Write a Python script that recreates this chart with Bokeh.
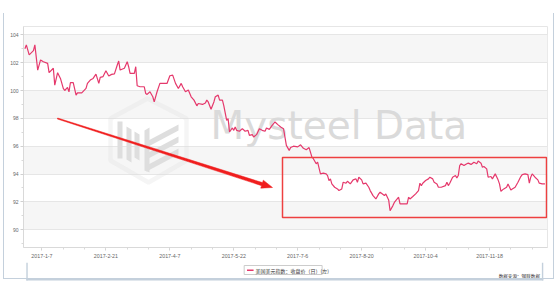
import pandas as pd
from bokeh.plotting import figure
from bokeh.layouts import column
from bokeh.models import (Range1d, FixedTicker, BoxAnnotation, Label, PolyAnnotation,
                          CustomJSTickFormatter, InlineStyleSheet)
from bokeh.embed import file_html
from bokeh.resources import INLINE

# ---------------- data ----------------
dates = [
    "2016-12-26", "2016-12-27", "2016-12-29", "2017-01-01", "2017-01-02", "2017-01-04", "2017-01-06",
    "2017-01-08", "2017-01-11", "2017-01-12", "2017-01-15", "2017-01-16", "2017-01-18", "2017-01-20",
    "2017-01-22", "2017-01-23", "2017-01-25", "2017-01-26", "2017-01-27", "2017-01-29", "2017-01-31",
    "2017-02-01", "2017-02-04", "2017-02-07", "2017-02-08", "2017-02-10", "2017-02-12", "2017-02-14",
    "2017-02-16", "2017-02-17", "2017-02-19", "2017-02-21", "2017-02-23", "2017-02-25", "2017-02-27",
    "2017-03-01", "2017-03-02", "2017-03-03", "2017-03-06", "2017-03-08", "2017-03-09", "2017-03-10",
    "2017-03-13", "2017-03-14", "2017-03-15", "2017-03-17", "2017-03-20", "2017-03-21", "2017-03-22",
    "2017-03-24", "2017-03-26", "2017-03-27", "2017-03-29", "2017-03-31", "2017-04-03", "2017-04-05",
    "2017-04-07", "2017-04-09", "2017-04-11", "2017-04-13", "2017-04-15", "2017-04-16", "2017-04-18",
    "2017-04-20", "2017-04-22", "2017-04-24", "2017-04-26", "2017-04-27", "2017-04-30", "2017-05-02",
    "2017-05-03", "2017-05-04", "2017-05-06", "2017-05-08", "2017-05-09", "2017-05-11", "2017-05-12",
    "2017-05-14", "2017-05-15", "2017-05-17", "2017-05-18", "2017-05-19", "2017-05-21", "2017-05-22",
    "2017-05-23", "2017-05-24", "2017-05-26", "2017-05-28", "2017-05-30", "2017-06-01", "2017-06-02",
    "2017-06-04", "2017-06-05", "2017-06-07", "2017-06-09", "2017-06-11", "2017-06-13", "2017-06-14",
    "2017-06-16", "2017-06-18", "2017-06-20", "2017-06-22", "2017-06-24", "2017-06-26", "2017-06-28",
    "2017-06-30", "2017-07-01", "2017-07-03", "2017-07-06", "2017-07-08", "2017-07-10", "2017-07-12",
    "2017-07-14", "2017-07-16", "2017-07-17", "2017-07-19", "2017-07-20", "2017-07-22", "2017-07-24",
    "2017-07-26", "2017-07-27", "2017-07-28", "2017-07-29", "2017-07-30", "2017-08-01", "2017-08-03",
    "2017-08-04", "2017-08-06", "2017-08-07", "2017-08-09", "2017-08-10", "2017-08-12", "2017-08-14",
    "2017-08-16", "2017-08-17", "2017-08-18", "2017-08-20", "2017-08-21", "2017-08-23", "2017-08-25",
    "2017-08-26", "2017-08-28", "2017-08-30", "2017-09-01", "2017-09-02", "2017-09-05", "2017-09-06",
    "2017-09-08", "2017-09-09", "2017-09-11", "2017-09-12", "2017-09-14", "2017-09-15", "2017-09-16",
    "2017-09-19", "2017-09-21", "2017-09-22", "2017-09-23", "2017-09-25", "2017-09-27", "2017-09-29",
    "2017-09-30", "2017-10-01", "2017-10-02", "2017-10-04", "2017-10-06", "2017-10-07", "2017-10-09",
    "2017-10-10", "2017-10-12", "2017-10-13", "2017-10-15", "2017-10-18", "2017-10-19", "2017-10-20",
    "2017-10-21", "2017-10-23", "2017-10-25", "2017-10-26", "2017-10-27", "2017-10-28", "2017-10-29",
    "2017-10-31", "2017-11-02", "2017-11-03", "2017-11-05", "2017-11-07", "2017-11-09", "2017-11-10",
    "2017-11-12", "2017-11-13", "2017-11-14", "2017-11-16", "2017-11-17", "2017-11-19", "2017-11-20",
    "2017-11-22", "2017-11-24", "2017-11-25", "2017-11-26", "2017-11-28", "2017-11-30", "2017-12-01",
    "2017-12-03", "2017-12-04", "2017-12-06", "2017-12-08", "2017-12-10", "2017-12-11", "2017-12-13",
    "2017-12-15", "2017-12-16", "2017-12-17", "2017-12-18", "2017-12-20", "2017-12-22", "2017-12-23",
    "2017-12-25", "2017-12-27",
]
usd_index = [
    103.00, 103.28, 102.56, 102.87, 103.28, 101.47, 102.20,
    102.07, 101.95, 101.28, 101.60, 100.39, 101.28, 100.87,
    100.15, 100.00, 100.22, 99.90, 100.56, 100.56, 99.67,
    99.83, 99.83, 100.15, 100.51, 100.75, 100.87, 101.18,
    100.51, 100.95, 101.00, 101.42, 101.04, 101.16, 101.20,
    101.83, 102.12, 101.47, 101.60, 102.07, 101.71, 101.23,
    101.23, 101.71, 100.34, 100.27, 100.27, 99.79, 99.72,
    99.91, 99.55, 99.18, 99.91, 100.51, 100.51, 100.51,
    101.06, 101.11, 100.51, 100.15, 100.51, 100.27, 99.91,
    100.03, 99.55, 99.31, 98.90, 99.07, 99.00, 99.11,
    99.31, 99.18, 98.66, 99.18, 99.55, 99.67, 99.31,
    99.31, 98.90, 97.86, 97.98, 97.02, 97.31, 97.14,
    97.38, 97.14, 97.07, 97.26, 97.07, 97.14, 96.78,
    96.83, 96.66, 96.83, 97.26, 97.14, 97.07, 97.31,
    97.21, 97.50, 97.74, 97.55, 97.38, 97.26, 96.06,
    95.70, 95.90, 96.00, 95.95, 96.10, 95.85, 95.75,
    95.90, 95.21, 95.10, 94.74, 94.85, 94.01, 94.06,
    94.01, 93.89, 93.53, 93.65, 93.29, 93.05, 92.93,
    92.81, 92.93, 93.41, 93.34, 93.48, 93.29, 93.58,
    93.65, 93.41, 93.77, 93.58, 93.29, 93.34, 93.05,
    92.81, 92.45, 92.21, 92.57, 92.69, 92.45, 92.57,
    92.14, 91.36, 91.73, 91.96, 92.21, 92.33, 91.85,
    91.85, 91.85, 92.33, 92.21, 92.38, 92.57, 92.81,
    93.34, 93.17, 93.34, 93.53, 93.65, 93.77, 93.65,
    93.41, 93.29, 93.05, 93.05, 93.17, 93.41, 93.17,
    93.34, 93.77, 93.89, 93.72, 93.89, 94.61, 94.74,
    94.61, 94.74, 94.78, 94.69, 94.85, 94.74, 94.93,
    94.78, 94.49, 94.54, 94.37, 93.77, 93.82, 93.65,
    94.01, 93.58, 93.29, 92.76, 92.93, 93.05, 93.29,
    92.86, 92.93, 93.05, 93.41, 93.82, 93.96, 94.01,
    93.96, 93.34, 93.77, 94.01, 93.77, 93.58, 93.34,
    93.29, 93.29,
]
x_tick_dates = ["2017-01-07", "2017-02-21", "2017-04-07", "2017-05-22",
                "2017-07-06", "2017-08-20", "2017-10-04", "2017-11-18"]
y_ticks = [90, 92, 94, 96, 98, 100, 102, 104]
series_name = "美国美元指数：收盘价（日）(左)"
source_note = "数据来源：钢联数据"
watermark_text = "Mysteel Data"

# ---------------- layout constants ----------------
W, H = 558, 284
H1 = 262                              # height of the main chart strip
FL, FR, FT, FB = 23, 547, 26, 247     # frame edges in canvas pixels
LINE_COLOR = "#e5396c"


def ms(d):
    return pd.Timestamp(d).value // 10**6


def scr(pts):
    """canvas (x right, y down) -> frame-relative screen units (y up)"""
    return [x - FL for x, _ in pts], [FB - y for _, y in pts]


p = figure(width=W, height=H1, x_axis_type="datetime",
           output_backend="svg", toolbar_location=None,
           x_range=Range1d(pd.Timestamp("2016-12-25 00:00"), pd.Timestamp("2017-12-28 19:00")),
           y_range=Range1d(88.72, 104.6),
           min_border_left=FL, min_border_right=W - FR,
           min_border_top=FT, min_border_bottom=H1 - FB)
p.background_fill_color = "white"
p.border_fill_color = "white"
p.outline_line_color = "#e6e6e6"
p.outline_line_width = 1

# alternating bands
for lo, hi in zip(y_ticks[::2], y_ticks[1::2]):
    p.add_layout(BoxAnnotation(bottom=lo, top=hi, fill_color="#f6f6f6", fill_alpha=1.0,
                               line_alpha=0, level="image"))

# grid
p.xgrid.visible = False
p.ygrid.ticker = FixedTicker(ticks=y_ticks)
p.ygrid.grid_line_color = "#e6e6e6"
p.ygrid.grid_line_width = 1

# watermark logo (shield + bars)
wm_color = "#dedede"
shield = [(147, 98), (186, 118), (186, 160), (148, 182), (110, 160), (110, 118)]
sx, sy = scr(shield + [shield[0]])
p.add_layout(PolyAnnotation(xs=sx, ys=sy, xs_units="screen", ys_units="screen",
                            fill_alpha=0, line_color=wm_color, line_width=4.5, level="underlay"))
bars = [
    [(117, 121), (122, 121), (122, 158), (117, 158)],
    [(126, 126), (131, 129), (131, 162), (126, 159)],
    [(134, 131), (139, 134), (139, 160), (134, 157)],
    [(146, 141), (178, 124), (178, 130), (146, 147)],
    [(146, 153), (178, 136), (178, 142), (146, 159)],
    [(146, 165), (178, 148), (178, 154), (146, 171)],
    [(144, 130), (149, 127), (149, 172), (144, 170)],
]
for b in bars:
    bx, by = scr(b)
    p.add_layout(PolyAnnotation(xs=bx, ys=by, xs_units="screen", ys_units="screen",
                                fill_color=wm_color, fill_alpha=1, line_alpha=0, level="underlay"))

p.add_layout(Label(x=210 - FL, y=FB - 147, x_units="screen", y_units="screen",
                   text=watermark_text, text_font="DejaVu Sans", text_font_size="39px",
                   text_color="#dadada", text_alpha=1.0, level="underlay"))

# series line
src = dict(x=pd.to_datetime(dates), y=usd_index)
p.line(x="x", y="y", source=src, line_color=LINE_COLOR, line_width=1.2)

# axes
p.xaxis.ticker = FixedTicker(ticks=[ms(d) for d in x_tick_dates],
                             minor_ticks=[ms(d) for d in pd.date_range("2016-12-23", "2017-12-28", freq="15D")])
p.xaxis.formatter = CustomJSTickFormatter(code="""
const d = new Date(tick);
return d.getUTCFullYear() + "-" + (d.getUTCMonth() + 1) + "-" + d.getUTCDate();
""")
p.yaxis.ticker = FixedTicker(ticks=y_ticks, minor_ticks=[v + 1 for v in y_ticks] + [89])
for ax in (p.xaxis[0], p.yaxis[0]):
    ax.axis_line_color = "#d9d9d9"
    ax.major_tick_line_color = "#d0d0d0"
    ax.minor_tick_line_color = "#d9d9d9"
    ax.major_tick_in = 0
    ax.minor_tick_in = 0
    ax.major_tick_out = 3
    ax.minor_tick_out = 2
    ax.major_label_text_color = "#666666"
    ax.major_label_text_font = "Liberation Sans"
p.xaxis.major_label_text_font_size = "5.3px"
p.xaxis.major_label_standoff = 3
p.yaxis.major_label_text_font_size = "5px"
p.yaxis.major_label_standoff = 2

# red arrow (tapered shaft + head)
start, tip = (57, 118), (272, 187)
dx, dy = tip[0] - start[0], tip[1] - start[1]
L = (dx * dx + dy * dy) ** 0.5
ux, uy = dx / L, dy / L
nx, ny = -uy, ux
bxp, byp = tip[0] - 11 * ux, tip[1] - 11 * uy
arrow = [
    (start[0] - 0.5 * nx, start[1] - 0.5 * ny),
    (bxp - 1.6 * nx, byp - 1.6 * ny),
    (bxp - 4.2 * nx, byp - 4.2 * ny),
    tip,
    (bxp + 4.2 * nx, byp + 4.2 * ny),
    (bxp + 1.6 * nx, byp + 1.6 * ny),
    (start[0] + 0.5 * nx, start[1] + 0.5 * ny),
]
ax_, ay_ = scr(arrow)
p.add_layout(PolyAnnotation(xs=ax_, ys=ay_, xs_units="screen", ys_units="screen",
                            fill_color="#f01e1e", fill_alpha=1, line_color="#f01e1e",
                            line_alpha=1, line_width=0.5))

# red highlight rectangle
p.add_layout(BoxAnnotation(left=282 - FL, right=546 - FL, top=FB - 157, bottom=FB - 217,
                           left_units="screen", right_units="screen",
                           top_units="screen", bottom_units="screen",
                           fill_alpha=0, line_color="#ee4040", line_alpha=1, line_width=1.5))

# ---------------- bottom strip: legend + source note ----------------
H2 = H - H1
q = figure(width=W, height=H2, output_backend="svg", toolbar_location=None,
           x_range=Range1d(0, W), y_range=Range1d(H2, 0),
           min_border_left=0, min_border_right=0, min_border_top=0, min_border_bottom=0,
           x_axis_location=None, y_axis_location=None)
q.grid.visible = False
q.outline_line_color = None
q.background_fill_color = "white"
q.border_fill_color = "white"

# legend box (canvas y of strip = page y - H1)
q.add_layout(BoxAnnotation(left=235, right=318, top=265 - H1, bottom=274 - H1,
                           fill_color="white", fill_alpha=1, line_color="#cccccc",
                           line_alpha=1, line_width=1))
q.add_layout(BoxAnnotation(left=238, right=245, top=269 - H1, bottom=270.5 - H1,
                           fill_color=LINE_COLOR, fill_alpha=1, line_alpha=0))
q.add_layout(Label(x=247, y=269.7 - H1, text=series_name, text_font="Noto Sans CJK SC",
                   text_font_size="5px", text_color="#333333", text_baseline="middle"))
# source note
q.add_layout(Label(x=550, y=278.5 - H1, text=source_note, text_font="Noto Sans CJK SC",
                   text_font_size="4.6px", text_color="#333333", text_align="right",
                   text_baseline="bottom"))
# outer frame pieces in the strip
frame_col = "#c4d0dc"
q.add_layout(BoxAnnotation(left=3, right=4.5, top=0, bottom=280 - H1,
                           fill_color=frame_col, fill_alpha=1, line_alpha=0))
q.add_layout(BoxAnnotation(left=552, right=553.5, top=0, bottom=280 - H1,
                           fill_color=frame_col, fill_alpha=1, line_alpha=0))
q.add_layout(BoxAnnotation(left=3, right=553.5, top=278.5 - H1, bottom=280 - H1,
                           fill_color=frame_col, fill_alpha=1, line_alpha=0))

page = column(p, q, spacing=0)
page.stylesheets = [InlineStyleSheet(css="""
:host::after {
  content: ""; position: absolute; left: 3px; top: 13px; width: 549px; height: 265px;
  border-left: 1.5px solid #c4d0dc; border-right: 1.5px solid #c4d0dc;
  border-bottom: 1.5px solid #c4d0dc; pointer-events: none; z-index: 10;
}
""")]

open("out.html", "w").write(file_html(page, INLINE))
